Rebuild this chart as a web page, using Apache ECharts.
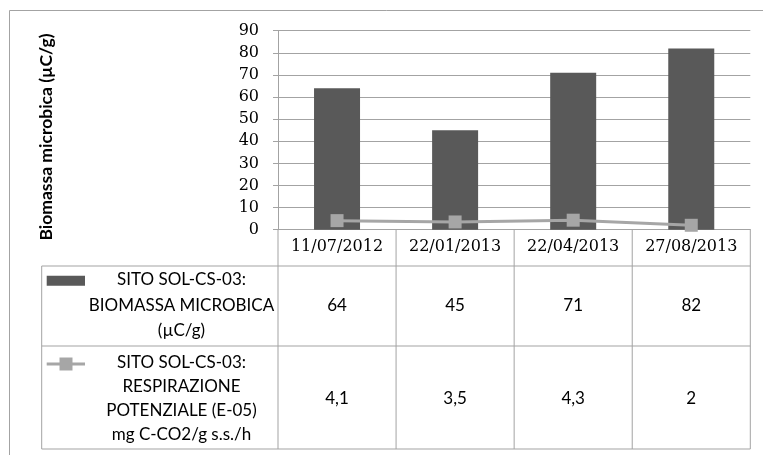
<!DOCTYPE html>
<html>
<head>
<meta charset="utf-8">
<script src="https://cdn.jsdelivr.net/npm/echarts@6/dist/echarts.min.js"></script>
<style>
html,body{margin:0;padding:0;background:#fff;}
#main{width:763px;height:455px;}
</style>
</head>
<body>
<div id="main"></div>
<script>
const categories = ['11/07/2012', '22/01/2013', '22/04/2013', '27/08/2013'];
const biomassa = [64, 45, 71, 82];
const respirazione = [4.1, 3.5, 4.3, 2];
const yTicks = { min: 0, max: 90, interval: 10 };
const yAxisTitle = 'Biomassa microbica (µC/g)';
const seriesNames = [
  'SITO SOL-CS-03:\nBIOMASSA MICROBICA\n(µC/g)',
  'SITO SOL-CS-03:\nRESPIRAZIONE\nPOTENZIALE (E-05)\nmg C-CO2/g s.s./h'
];

const BAR = '#595959', LINE = '#a6a6a6', GRID = '#a3a3a3';
const SERIF = '"DejaVu Serif", serif';
const SANS = 'Lato, "Noto Sans", sans-serif';

const chart = echarts.init(document.getElementById('main'), null, { renderer: 'canvas' });
chart.setOption({
  animation: false,
  backgroundColor: '#fff',
  grid: { left: 278, top: 30.7, right: 12.7, bottom: 225.3, containLabel: false },
  xAxis: {
    type: 'category', data: categories,
    axisLine: { show: true, lineStyle: { color: GRID, width: 1 } },
    axisTick: { show: false },
    axisLabel: { interval: 0, margin: 9, color: '#000', fontFamily: SERIF, fontSize: 16 }
  },
  yAxis: {
    type: 'value', min: yTicks.min, max: yTicks.max, interval: yTicks.interval,
    axisLine: { show: true, lineStyle: { color: GRID, width: 1 } },
    axisTick: { show: true, length: 5, lineStyle: { color: GRID } },
    splitLine: { show: true, lineStyle: { color: GRID, width: 1 } },
    axisLabel: { margin: 19, color: '#000', fontFamily: SERIF, fontSize: 16 }
  },
  series: [
    { name: 'biomassa', type: 'bar', data: biomassa, barWidth: 46, itemStyle: { color: BAR } },
    { name: 'respirazione', type: 'line', data: respirazione, symbol: 'rect', symbolSize: 13,
      lineStyle: { color: LINE, width: 3 }, itemStyle: { color: LINE }, z: 5 }
  ]
});

// Build data table from the axis scale
const centers = categories.map((c, i) => chart.convertToPixel({ xAxisIndex: 0 }, i));
const bw = centers.length > 1 ? centers[1] - centers[0] : 118;
const bounds = [centers[0] - bw / 2].concat(centers.map(c => c + bw / 2));
const zeroY = chart.convertToPixel({ yAxisIndex: 0 }, 0);
const headBottom = zeroY + 36.3;
const row1Bottom = 346;
const row2Bottom = 449;
const labelLeft = 41.7;
const tableRight = bounds[bounds.length - 1];

const g = [];
function hline(x1, x2, y) { g.push({ type: 'line', shape: { x1, y1: y, x2, y2: y }, style: { stroke: GRID, lineWidth: 1 }, silent: true }); }
function vline(x, y1, y2) { g.push({ type: 'line', shape: { x1: x, y1, x2: x, y2 }, style: { stroke: GRID, lineWidth: 1 }, silent: true }); }

// outer border
g.push({ type: 'rect', shape: { x: 9.5, y: 10.5, width: 800, height: 500 }, style: { fill: null, stroke: GRID, lineWidth: 1 }, silent: true });

hline(labelLeft, tableRight, headBottom);
hline(labelLeft, tableRight, row1Bottom);
hline(labelLeft, tableRight, row2Bottom);
vline(labelLeft, headBottom, row2Bottom);
bounds.forEach(x => vline(x, zeroY, row2Bottom));

// legend keys
g.push({ type: 'rect', shape: { x: 46.7, y: 275.7, width: 38.3, height: 10 }, style: { fill: BAR }, silent: true });
g.push({ type: 'line', shape: { x1: 46.7, y1: 364, x2: 85, y2: 364 }, style: { stroke: LINE, lineWidth: 3 }, silent: true });
g.push({ type: 'rect', shape: { x: 59.5, y: 357.5, width: 13, height: 13 }, style: { fill: LINE }, silent: true });

// row labels
const rowCenters = [305.5, 398.5];
const rowLH = [25.5, 24];
seriesNames.forEach((t, i) => {
  g.push({ type: 'text', x: 181.5, y: rowCenters[i], silent: true,
    style: { text: t, align: 'center', verticalAlign: 'middle', font: '17px ' + SANS, fill: '#000', lineHeight: rowLH[i] } });
});

// values
const fmt = v => String(v).replace('.', ',');
[biomassa, respirazione].forEach((arr, r) => {
  arr.forEach((v, i) => {
    g.push({ type: 'text', x: centers[i], y: rowCenters[r], silent: true,
      style: { text: fmt(v), align: 'center', verticalAlign: 'middle', font: '17px ' + SANS, fill: '#000' } });
  });
});

// y axis title
g.push({ type: 'text', x: 46.5, y: 137, rotation: Math.PI / 2, silent: true,
  style: { text: yAxisTitle, align: 'center', verticalAlign: 'middle', font: 'bold 17.5px ' + SANS, fill: '#000' } });

chart.setOption({ graphic: g });
</script>
</body>
</html>
